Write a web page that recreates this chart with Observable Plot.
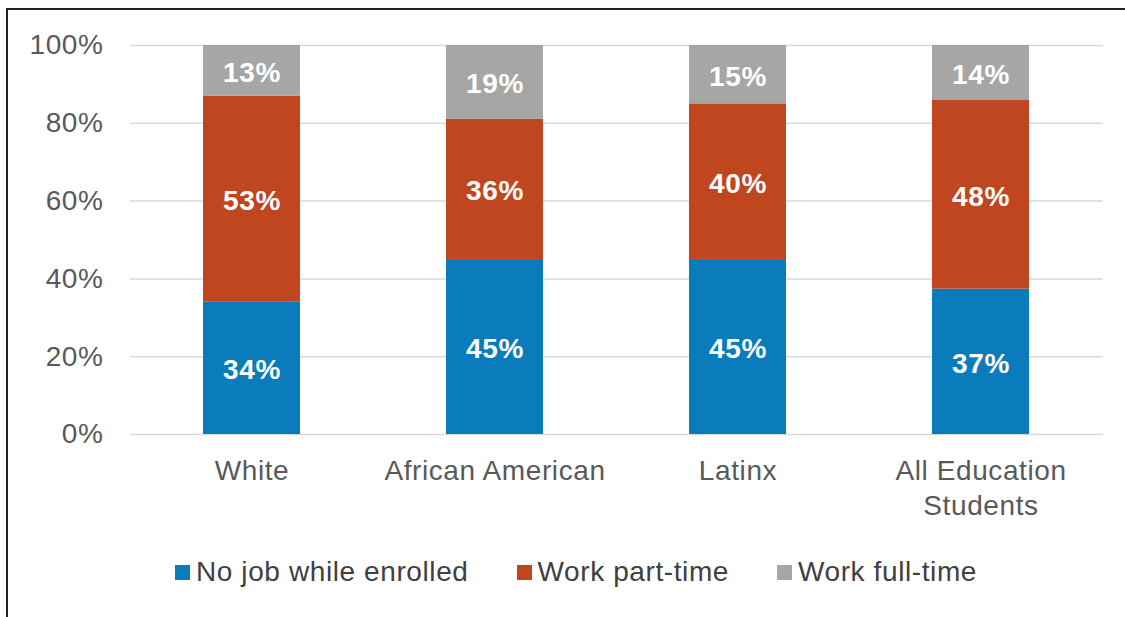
<!DOCTYPE html>
<html>
<head>
<meta charset="utf-8">
<script src="https://cdn.jsdelivr.net/npm/d3@7"></script>
<script src="https://cdn.jsdelivr.net/npm/@observablehq/plot@0.6"></script>
<style>
  html, body { margin: 0; padding: 0; background: #fff; }
  body { width: 1125px; height: 617px; position: relative; overflow: hidden; font-family: "Liberation Sans", Arial, sans-serif; }
  #frame { position: absolute; left: 6px; top: 8px; width: 1125px; height: 620px; border-top: 2px solid #222; border-left: 2px solid #222; box-sizing: border-box; }
  #chart { position: absolute; left: 0; top: 0; }
  #legend { position: absolute; left: 175px; top: 556px; display: flex; align-items: center; font-size: 28px; letter-spacing: 0.6px; color: #404040; white-space: nowrap; }
  .item { display: flex; align-items: center; margin-right: 48px; }
  .sw { width: 15px; height: 15px; margin-right: 6px; }
</style>
</head>
<body>
<div id="frame"></div>
<div id="chart"></div>
<div id="legend"></div>
<script>
const categories = ["White", "African American", "Latinx", "All Education Students"];
const categoryLabels = ["White", "African American", "Latinx", "All Education\nStudents"];
const seriesNames = ["No job while enrolled", "Work part-time", "Work full-time"];
const seriesColors = ["#0a7bbb", "#c0461f", "#a6a6a6"];
const noJob = [34, 45, 45, 37];
const partTime = [53, 36, 40, 48];
const fullTime = [13, 19, 15, 14];
const yTicks = [0, 0.2, 0.4, 0.6, 0.8, 1];

const seriesValues = [noJob, partTime, fullTime];
const data = [];
seriesNames.forEach((s, si) => {
  categories.forEach((c, ci) => {
    data.push({category: c, series: s, value: seriesValues[si][ci]});
  });
});

const stackOpts = {x: "category", y: "value", z: "series", order: seriesNames, offset: "normalize"};

const chart = Plot.plot({
  width: 1125,
  height: 530,
  marginLeft: 130,
  marginRight: 22,
  marginTop: 45,
  marginBottom: 96,
  style: {fontFamily: "Liberation Sans, Arial, sans-serif", background: "transparent", letterSpacing: "0.6px"},
  x: {domain: categories, padding: 0.6, paddingOuter: 0.3},
  y: {domain: [0, 1]},
  color: {domain: seriesNames, range: seriesColors},
  marks: [
    Plot.gridY(yTicks, {stroke: "#d9d9d9", strokeOpacity: 1, strokeWidth: 1.5}),
    Plot.barY(data, Plot.stackY({...stackOpts, fill: "series"})),
    Plot.text(data, Plot.stackY({...stackOpts, y: "value", text: d => d.value + "%", fill: "white", fontSize: 28, fontWeight: "bold", dy: 2})),
    Plot.axisY(yTicks, {tickSize: 0, tickPadding: 27, fontSize: 28, fill: "#595959", tickFormat: d => Math.round(d * 100) + "%", label: null}),
    Plot.axisX({tickSize: 0, tickPadding: 20, fontSize: 28, fill: "#595959", lineHeight: 1.26, tickFormat: c => categoryLabels[categories.indexOf(c)], label: null})
  ]
});
document.getElementById("chart").appendChild(chart);

const legend = document.getElementById("legend");
seriesNames.forEach((s, i) => {
  const item = document.createElement("div");
  item.className = "item";
  const sw = document.createElement("div");
  sw.className = "sw";
  sw.style.background = seriesColors[i];
  const t = document.createElement("span");
  t.textContent = s;
  item.appendChild(sw);
  item.appendChild(t);
  legend.appendChild(item);
});
</script>
</body>
</html>
